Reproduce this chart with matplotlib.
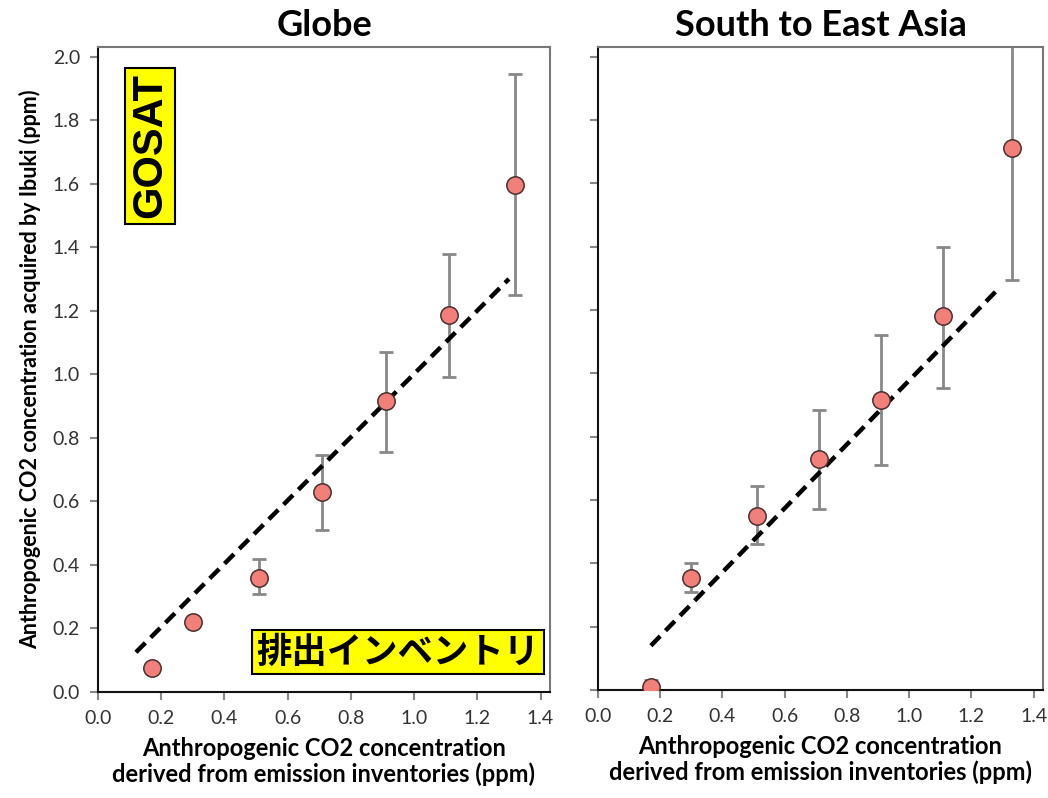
import matplotlib
matplotlib.use("Agg")
import matplotlib.pyplot as plt

# ---- data ----
x_globe = [0.17, 0.30, 0.51, 0.71, 0.91, 1.11, 1.32]
y_globe = [0.075, 0.22, 0.36, 0.63, 0.915, 1.185, 1.595]
lo_globe = [0.075, 0.22, 0.31, 0.51, 0.755, 0.99, 1.25]
hi_globe = [0.075, 0.22, 0.42, 0.745, 1.07, 1.38, 1.945]
fit_globe_x = [0.12, 1.30]
fit_globe_y = [0.125, 1.30]

x_asia = [0.17, 0.30, 0.51, 0.71, 0.91, 1.11, 1.33]
y_asia = [0.01, 0.355, 0.55, 0.73, 0.915, 1.18, 1.71]
lo_asia = [-0.01, 0.31, 0.46, 0.57, 0.71, 0.955, 1.295]
hi_asia = [0.03, 0.40, 0.645, 0.885, 1.12, 1.40, 2.10]
fit_asia_x = [0.17, 1.29]
fit_asia_y = [0.14, 1.27]

xticks = [0.0, 0.2, 0.4, 0.6, 0.8, 1.0, 1.2, 1.4]
yticks = [0.0, 0.2, 0.4, 0.6, 0.8, 1.0, 1.2, 1.4, 1.6, 1.8, 2.0]
titles = ["Globe", "South to East Asia"]
xlabel = "Anthropogenic CO2 concentration\nderived from emission inventories (ppm)"
ylabel = "Anthropogenic CO2 concentration acquired by Ibuki (ppm)"

plt.rcParams['font.family'] = ['Lato', 'DejaVu Sans']

fig = plt.figure(figsize=(10.48, 7.98), dpi=100)
ax1 = fig.add_axes([98/1048, 1-692/798, 452/1048, 645/798])
ax2 = fig.add_axes([598/1048, 1-690/798, 445/1048, 643/798])

datasets = [
    (ax1, x_globe, y_globe, lo_globe, hi_globe, fit_globe_x, fit_globe_y),
    (ax2, x_asia, y_asia, lo_asia, hi_asia, fit_asia_x, fit_asia_y),
]

for i, (ax, xs, ys, lo, hi, fx, fy) in enumerate(datasets):
    yerr = [[y - l for y, l in zip(ys, lo)], [h - y for y, h in zip(ys, hi)]]
    ax.errorbar(xs, ys, yerr=yerr, fmt='none', ecolor='#888888', elinewidth=2,
                capsize=5, capthick=2, zorder=2)
    ax.plot(fx, fy, linestyle=(0, (3.0, 1.7)), color='black', linewidth=3.2, zorder=3)
    ax.plot(xs, ys, 'o', markersize=12.5, markerfacecolor='#F2807A',
            markeredgecolor='#4a3030', markeredgewidth=1.1, zorder=4)
    ax.set_xlim(0, 1.43)
    ax.set_ylim(0, 2.03)
    ax.set_xticks(xticks)
    ax.set_xticklabels([f"{t:.1f}" for t in xticks])
    ax.set_yticks(yticks)
    if i == 0:
        ax.set_yticklabels([f"{t:.1f}" for t in yticks])
        ax.set_ylabel(ylabel, fontsize=15.5, fontweight='bold', labelpad=8)
    else:
        ax.set_yticklabels([])
    ax.tick_params(axis='both', direction='out', length=6, width=1.5,
                   color='#888888', labelsize=14, labelcolor='#333333', pad=7)
    ax.set_xlabel(xlabel, fontsize=17, fontweight='bold', labelpad=7,
                  linespacing=1.15)
    ax.set_title(titles[i], fontsize=26, fontweight='bold', pad=8)
    for s in ['left', 'bottom']:
        ax.spines[s].set_color('#111111')
        ax.spines[s].set_linewidth(1.5)
    for s in ['top', 'right']:
        ax.spines[s].set_color('#777777')
        ax.spines[s].set_linewidth(1.5)

ax1.text(150/1048, 1-146/798, "GOSAT", transform=fig.transFigure, rotation=90,
         ha='center', va='center', fontsize=30, fontweight='bold',
         family=['Liberation Sans', 'DejaVu Sans'],
         bbox=dict(boxstyle='square,pad=0.13', facecolor='#FFFF00',
                   edgecolor='black', linewidth=1.5))
ax1.text(398/1048, 1-652/798, "排出インベントリ", transform=fig.transFigure,
         ha='center', va='center', fontsize=25.5, fontweight='bold',
         family=['Noto Sans CJK JP', 'DejaVu Sans'],
         bbox=dict(boxstyle='square,pad=0.13', facecolor='#FFFF00',
                   edgecolor='black', linewidth=1.5))

fig.savefig("out.png", dpi=100)
